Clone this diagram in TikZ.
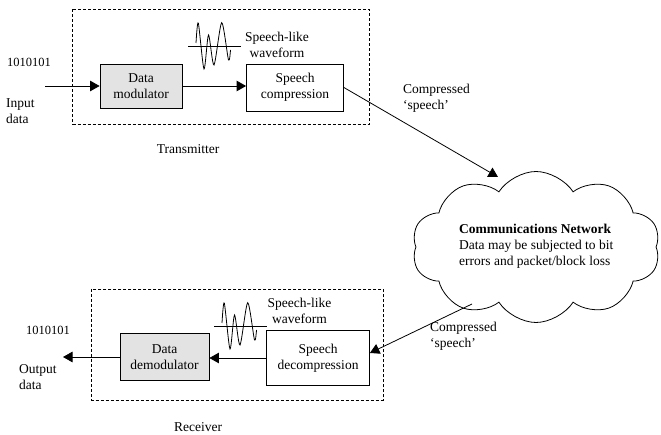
\documentclass[tikz,border=0pt]{standalone}
\usepackage{fontspec}
\setmainfont{Liberation Serif}
\usetikzlibrary{arrows.meta,shapes.symbols,calc}
\begin{document}
\begin{tikzpicture}[x=1pt,y=-1pt,
  font=\fontsize{13.5}{16}\selectfont,
  lw/.style={line width=0.8pt},
  arr/.style={lw,-{Triangle[length=9.5pt,width=10.5pt]}},
  dbox/.style={draw,lw,dash pattern=on 3pt off 2pt},
  blk/.style={draw,lw,align=center,inner sep=0pt},
  gblk/.style={blk,fill=black!11},
  lbl/.style={inner sep=0pt,align=left},
  wave/.pic={
    \draw[lw] (0,0) -- (53,0);
    \draw[lw] plot[smooth,tension=0.45] coordinates{(8,-3) (10.3,-23) (16,23) (20.5,-11) (26,19) (33.7,-23.3) (40.5,14) (42.5,4)};
  }]
\useasboundingbox (0,0) rectangle (661,435);

% Transmitter
\draw[dbox] (72.7,9.3) rectangle (369.3,124.3);
\node[gblk,minimum width=82pt,minimum height=44pt] (mod) at (141,86) {Data\\modulator};
\node[blk,minimum width=97pt,minimum height=47pt] (comp) at (295,87.5) {Speech\\compression};
\coordinate (in) at (45,86);
\draw[arr] (in) -- (mod.west);
\draw[arr] (mod.east) -- (mod.east -| comp.west);
\pic at (188,46) {wave};
\node[lbl,align=center] (swt) at (277,45) {Speech-like\\waveform};
\node[lbl] (bits1) at (29,62) {\fontsize{12.5}{15}\selectfont 1010101};
\node[lbl,anchor=north west] (indata) at (6,98) {Input\\data};
\node[lbl] (tx) at (188,149) {Transmitter};

% Network
\node[cloud,draw,lw,cloud puffs=10,cloud puff arc=115,aspect=1.55,minimum width=248pt,minimum height=151pt,inner sep=0pt] (net) at (536,247) {};
\node[lbl,anchor=north west] (nettxt) at (459,224) {\textbf{Communications Network}\\Data may be subjected to bit\\errors and packet/block loss};
\coordinate (ctop) at (498,177);
\coordinate (cbot) at (472,304);
\draw[arr] (comp.east) -- (ctop);
\node[lbl,anchor=north west] (cs1) at (403,84) {Compressed\\`speech'};
\node[lbl,anchor=north west] (cs2) at (430,322) {Compressed\\`speech'};

% Receiver
\draw[dbox] (91.7,289) rectangle (383,400);
\node[gblk,minimum width=89pt,minimum height=47pt] (dem) at (164.5,357) {Data\\demodulator};
\node[blk,minimum width=103pt,minimum height=55pt] (dec) at (318,358) {Speech\\decompression};
\coordinate (out) at (63,357);
\draw[arr] (cbot) -- ([yshift=5pt]dec.east);
\draw[arr] (dec.west) -- (dec.west -| dem.east);
\draw[arr] (dem.west) -- (out);
\pic at (214,326) {wave};
\node[lbl,align=center] (swr) at (299.5,311) {Speech-like\\waveform};
\node[lbl] (bits2) at (48,330) {\fontsize{12.5}{15}\selectfont 1010101};
\node[lbl,anchor=north west] (outdata) at (19,364) {Output\\data};
\node[lbl] (rx) at (198,427) {Receiver};
\end{tikzpicture}
\end{document}
